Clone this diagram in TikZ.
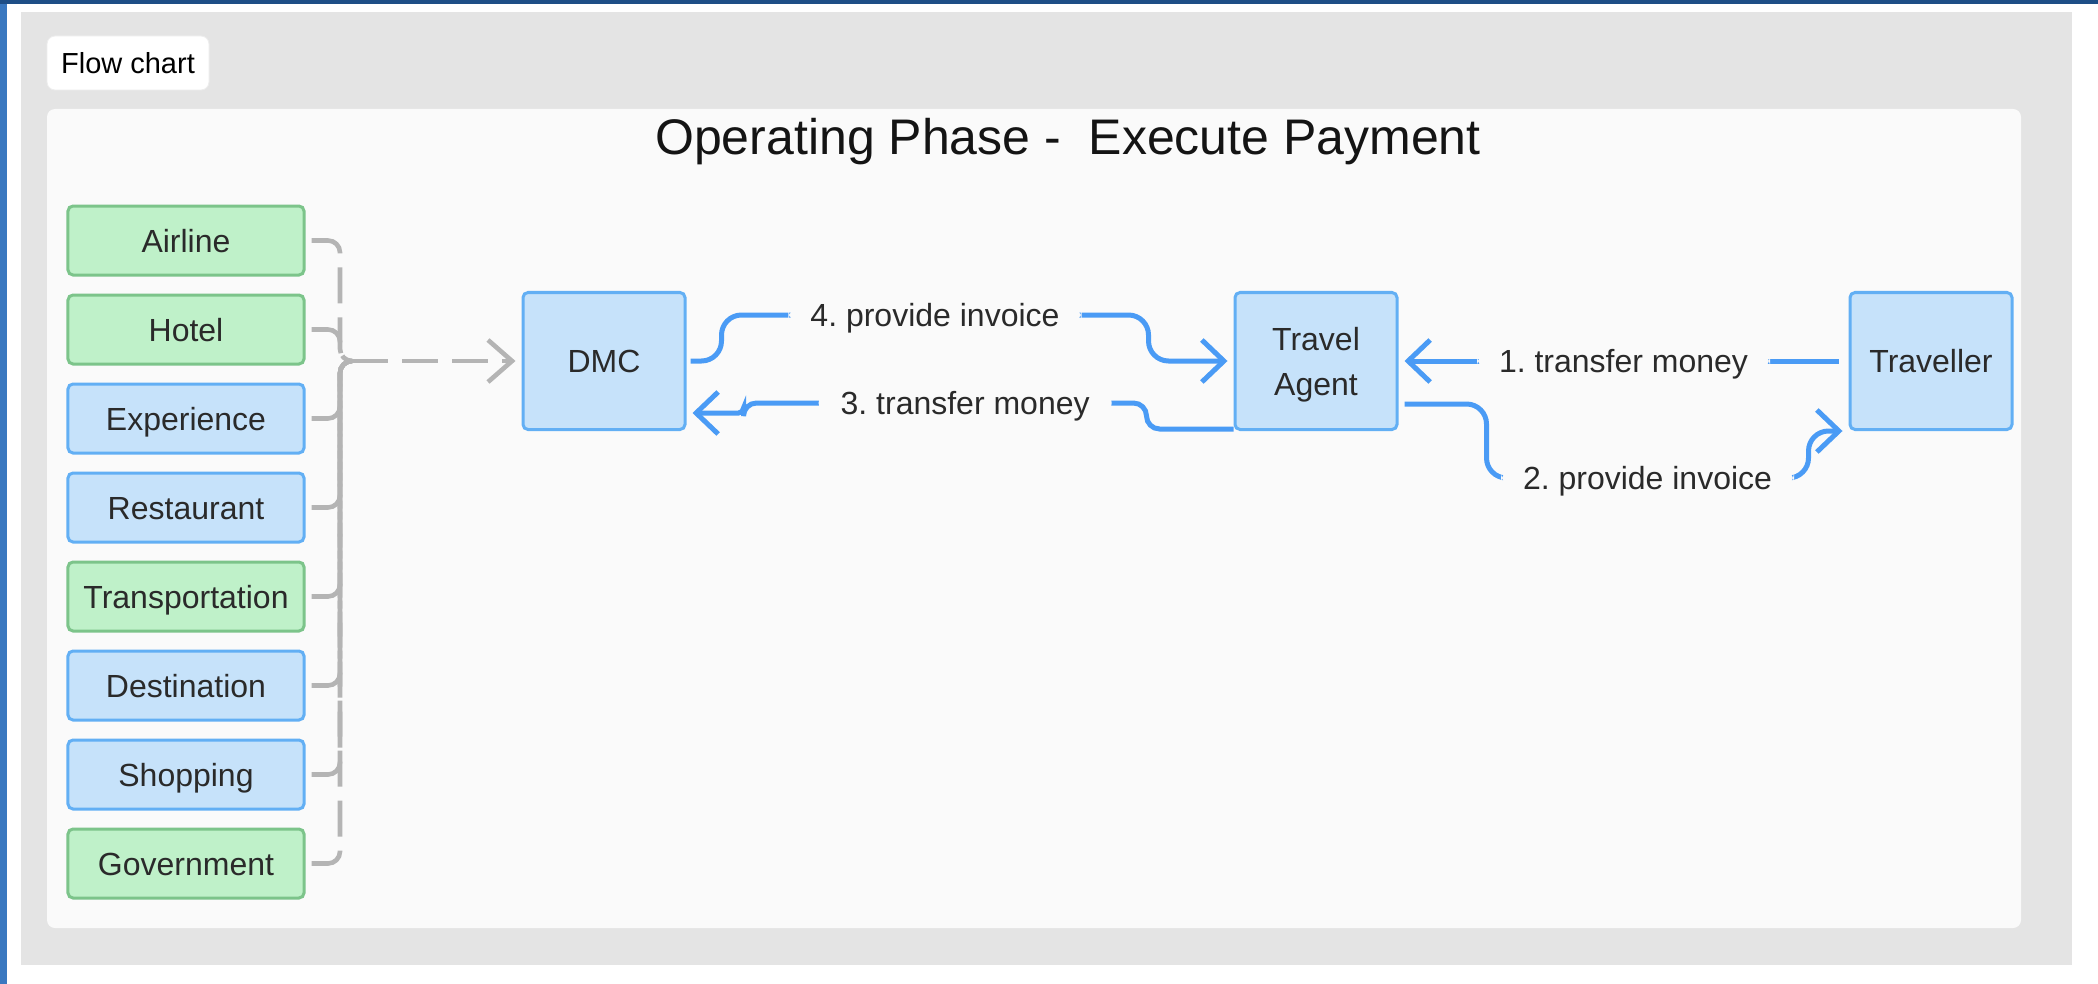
\documentclass[tikz,border=0pt]{standalone}
\usepackage{fontspec}
\setmainfont{Liberation Sans}
\usepackage{tikz}
\usetikzlibrary{matrix,arrows.meta}

\definecolor{edgeblue}{HTML}{3A78C0}
\definecolor{topblue}{HTML}{1E4E86}
\definecolor{outer}{HTML}{E4E4E4}
\definecolor{panel}{HTML}{FAFAFA}
\definecolor{gfill}{HTML}{BFF1C9}
\definecolor{gline}{HTML}{7CC48A}
\definecolor{bfill}{HTML}{C6E2FA}
\definecolor{bline}{HTML}{62AFF4}
\definecolor{payblue}{HTML}{4A9BF5}
\definecolor{feedgray}{HTML}{B4B4B4}
\definecolor{ink}{HTML}{2A2A2A}

\begin{document}
\begin{tikzpicture}[x=0.5pt, y=-0.5pt,
  box/.style={draw, line width=1.5pt, rounded corners=2.5pt, text=ink,
    font=\fontsize{16}{22.5}\selectfont},
  gbox/.style={box, fill=gfill, draw=gline},
  bbox/.style={box, fill=bfill, draw=bline},
  party/.style={bbox, minimum width=81pt, minimum height=68.5pt},
  feed/.style={draw=feedgray, line width=2.3pt, dash pattern=on 18pt off 7pt, rounded corners=6pt},
  pay/.style={draw=payblue, line width=2.5pt, rounded corners=10pt, shorten >=3pt,
    -{Straight Barb[length=11pt,width=21pt]}},
  lbl/.style={fill=panel, inner xsep=11pt, inner ysep=1pt, text=ink,
    text height=11.5pt, text depth=0pt, font=\fontsize{16}{19}\selectfont}]
\useasboundingbox (0,0) rectangle (2098,984);
% frame and panels
\fill[white] (0,0) rectangle (2098,984);
\fill[edgeblue] (0,0) rectangle (7,984);
\fill[topblue] (0,0) rectangle (2098,4);
\fill[outer] (21,12) rectangle (2072,965);
\fill[panel, rounded corners=4pt] (47,109) rectangle (2021,928);
\node[fill=white, draw=black!7, rounded corners=4pt, minimum width=81pt, minimum height=27pt,
  font=\fontsize{14.5}{17}\selectfont] (tab) at (128,63) {Flow chart};
\node[anchor=base, font=\fontsize{25}{30}\selectfont, text=black!92] (title) at (1068,155)
  {Operating Phase - ~Execute Payment};

% suppliers
\matrix (src) at (186,552) [matrix of nodes, row sep=8.5pt,
  nodes={minimum width=118pt, minimum height=34.5pt, text height=11.5pt, text depth=0pt}]
{
|[gbox]| Airline\\
|[gbox]| Hotel\\
|[bbox]| Experience\\
|[bbox]| Restaurant\\
|[gbox]| Transportation\\
|[bbox]| Destination\\
|[bbox]| Shopping\\
|[gbox]| Government\\
};

\node[party] (DMC) at (604,361) {DMC};
\node[party, align=center, text depth=0pt] (TA) at (1316,361) {Travel\\Agent};
\node[party] (Traveller) at (1931,361) {Traveller};

\coordinate (bus) at (340,361);
\coordinate (join) at (352,361);
\foreach \r in {1,...,8}
  \draw[feed] ([xshift=3pt]src-\r-1.east) -| (bus) -- (join);
\draw[feed, -{Straight Barb[length=12pt,width=21pt]}] (join) -- ([xshift=-3pt]DMC.west);

% payments
\draw[pay, shorten <=5pt] (Traveller.west) -- node[lbl] (lbl1) {1.\ transfer money} (TA.east);
\draw[pay, shorten <=3pt] ([yshift=-21.5pt]TA.east) -- ++(88,0) -- ++(0,74)
  -- node[lbl] (lbl2) {2.\ provide invoice} ++(322,0) |- (Traveller.south west);
\draw[pay, rounded corners=6.5pt] ([yshift=1pt]TA.south west) -- ++(-87,0) -- ++(0,-26)
  -- node[lbl, pos=0.45] (lbl3) {3.\ transfer money} ++(-403,0)
  [rounded corners=2.5pt] |- ([yshift=-26pt]DMC.east);
\draw[pay, shorten <=2pt] (DMC.east) -- ++(35,0) -- ++(0,-46)
  -- node[lbl] (lbl4) {4.\ provide invoice} ++(427,0) -- ++(0,46) -- (TA.west);
\end{tikzpicture}
\end{document}
